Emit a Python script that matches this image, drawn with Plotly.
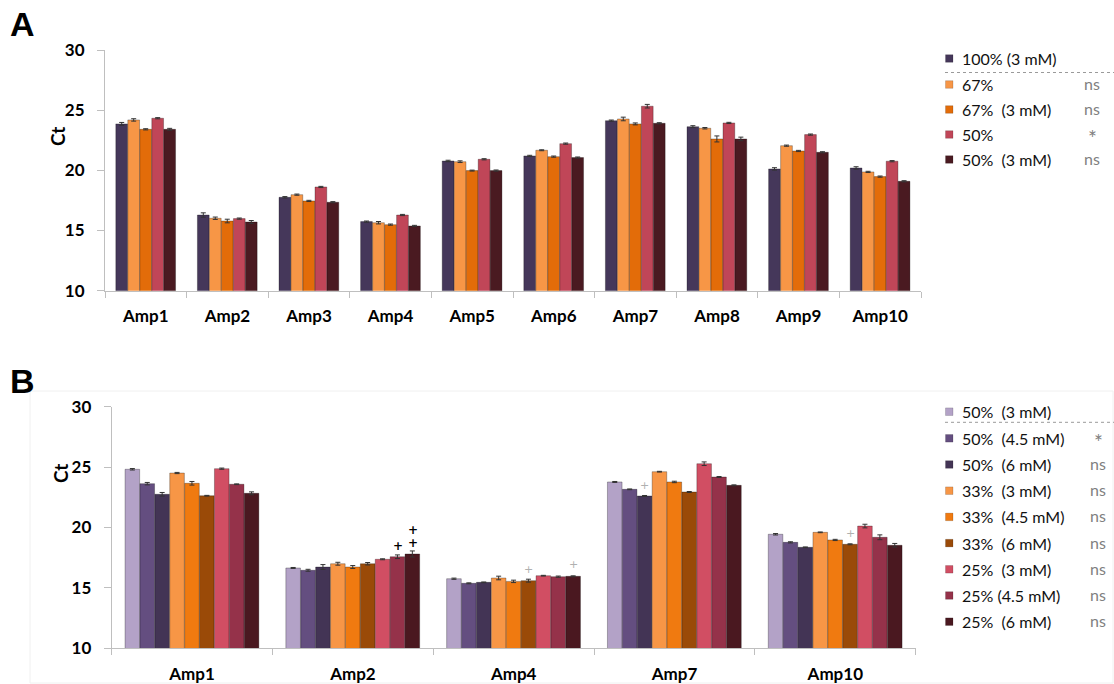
import plotly.graph_objects as go

# ---------------- Panel A data ----------------
cats_a = ["Amp1", "Amp2", "Amp3", "Amp4", "Amp5", "Amp6", "Amp7", "Amp8", "Amp9", "Amp10"]
series_a = ["100% (3 mM)", "67%", "67%  (3 mM)", "50%", "50%  (3 mM)"]
sig_a = ["", "ns", "ns", "*", "ns"]
colors_a = ["#45375A", "#F79646", "#E36C09", "#C04658", "#4A1A21"]

a_100_3mM = [23.86, 16.29, 17.76, 15.74, 20.78, 21.20, 24.13, 23.63, 20.12, 20.20]
a_67 = [24.19, 16.02, 17.98, 15.65, 20.72, 21.67, 24.27, 23.50, 22.05, 19.87]
a_67_3mM = [23.41, 15.79, 17.46, 15.49, 19.98, 21.14, 23.86, 22.61, 21.61, 19.48]
a_50 = [24.33, 15.99, 18.62, 16.29, 20.92, 22.22, 25.33, 23.94, 22.97, 20.76]
a_50_3mM = [23.41, 15.71, 17.35, 15.38, 19.98, 21.06, 23.91, 22.61, 21.50, 19.09]

e_100_3mM = [0.12, 0.18, 0.06, 0.05, 0.06, 0.05, 0.05, 0.08, 0.10, 0.10]
e_67 = [0.10, 0.10, 0.05, 0.10, 0.07, 0.04, 0.15, 0.06, 0.05, 0.05]
e_67_3mM = [0.05, 0.15, 0.05, 0.05, 0.04, 0.05, 0.08, 0.25, 0.05, 0.05]
e_50 = [0.05, 0.05, 0.05, 0.05, 0.05, 0.05, 0.15, 0.05, 0.05, 0.05]
e_50_3mM = [0.08, 0.12, 0.05, 0.05, 0.05, 0.05, 0.05, 0.15, 0.05, 0.05]

vals_a = [a_100_3mM, a_67, a_67_3mM, a_50, a_50_3mM]
errs_a = [e_100_3mM, e_67, e_67_3mM, e_50, e_50_3mM]

# ---------------- Panel B data ----------------
cats_b = ["Amp1", "Amp2", "Amp4", "Amp7", "Amp10"]
series_b = ["50%  (3 mM)", "50%  (4.5 mM)", "50%  (6 mM)", "33%  (3 mM)", "33%  (4.5 mM)",
            "33%  (6 mM)", "25%  (3 mM)", "25% (4.5 mM)", "25%  (6 mM)"]
sig_b = ["", "*", "ns", "ns", "ns", "ns", "ns", "ns", "ns"]
colors_b = ["#B3A2C7", "#644E80", "#433455", "#F79646", "#F07A10",
            "#9A4A08", "#D14E63", "#95324A", "#4A1820"]

b_50_3 = [24.82, 16.65, 15.76, 23.77, 19.44]
b_50_45 = [23.63, 16.46, 15.38, 23.16, 18.77]
b_50_6 = [22.75, 16.73, 15.46, 22.61, 18.36]
b_33_3 = [24.51, 17.00, 15.82, 24.62, 19.60]
b_33_45 = [23.66, 16.73, 15.54, 23.77, 18.97]
b_33_6 = [22.63, 17.00, 15.60, 22.94, 18.61]
b_25_3 = [24.87, 17.37, 16.01, 25.28, 20.12]
b_25_45 = [23.58, 17.58, 15.93, 24.18, 19.19]
b_25_6 = [22.83, 17.81, 15.96, 23.49, 18.53]

be_50_3 = [0.06, 0.04, 0.05, 0.04, 0.06]
be_50_45 = [0.10, 0.08, 0.04, 0.03, 0.05]
be_50_6 = [0.15, 0.20, 0.03, 0.04, 0.03]
be_33_3 = [0.05, 0.12, 0.15, 0.03, 0.03]
be_33_45 = [0.15, 0.12, 0.10, 0.06, 0.05]
be_33_6 = [0.03, 0.10, 0.12, 0.04, 0.04]
be_25_3 = [0.05, 0.04, 0.03, 0.15, 0.15]
be_25_45 = [0.03, 0.15, 0.05, 0.04, 0.20]
be_25_6 = [0.12, 0.25, 0.04, 0.04, 0.15]

vals_b = [b_50_3, b_50_45, b_50_6, b_33_3, b_33_45, b_33_6, b_25_3, b_25_45, b_25_6]
errs_b = [be_50_3, be_50_45, be_50_6, be_33_3, be_33_45, be_33_6, be_25_3, be_25_45, be_25_6]

# "+" marks in panel B: (category, series index, y value)
plus_bold = [("Amp2", 7, 18.49), ("Amp2", 8, 18.74), ("Amp2", 8, 19.82)]
plus_gray = [("Amp4", 5, 16.54), ("Amp4", 8, 16.90), ("Amp7", 2, 23.49), ("Amp10", 5, 19.52)]

# ---------------- geometry helpers ----------------
W, H = 1114, 684
def px(x):
    return x / W
def py(y):
    return 1 - y / H

FONT = "Lato"
GROUP_A = 0.735
GROUP_B = 0.834
bw_a = GROUP_A / len(series_a)
bw_b = GROUP_B / len(series_b)

fig = go.Figure()

for i, (name, vals, errs, col) in enumerate(zip(series_a, vals_a, errs_a, colors_a)):
    fig.add_trace(go.Bar(
        x=cats_a, y=vals, name=name, xaxis="x", yaxis="y",
        width=bw_a * 0.98, offset=-GROUP_A / 2 + i * bw_a,
        marker=dict(color=col, line=dict(color="rgba(0,0,0,0.28)", width=1)),
        error_y=dict(type="data", array=errs, color="#333333", thickness=1, width=2.5),
        showlegend=False,
    ))

for i, (name, vals, errs, col) in enumerate(zip(series_b, vals_b, errs_b, colors_b)):
    fig.add_trace(go.Bar(
        x=cats_b, y=vals, name=name, xaxis="x2", yaxis="y2",
        width=bw_b * 0.98, offset=-GROUP_B / 2 + i * bw_b,
        marker=dict(color=col, line=dict(color="rgba(0,0,0,0.28)", width=1)),
        error_y=dict(type="data", array=errs, color="#333333", thickness=1, width=2.5),
        showlegend=False,
    ))

annotations = []
shapes = []

def bar_center_b(cat, idx):
    return cats_b.index(cat) - GROUP_B / 2 + (idx + 0.5) * bw_b

for cat, idx, yv in plus_bold:
    annotations.append(dict(x=bar_center_b(cat, idx), y=yv, xref="x2", yref="y2",
                            text="<b>+</b>", showarrow=False,
                            font=dict(family="DejaVu Sans", size=12, color="#000000")))
for cat, idx, yv in plus_gray:
    annotations.append(dict(x=bar_center_b(cat, idx), y=yv, xref="x2", yref="y2",
                            text="+", showarrow=False,
                            font=dict(family="DejaVu Sans", size=11, color="#B0B0B0")))

def legend(series, sig, colors, first_y, sep_y, start_y, step, sig_x):
    for k, (name, s, col) in enumerate(zip(series, sig, colors)):
        yy = first_y if k == 0 else start_y + (k - 1) * step
        shapes.append(dict(type="rect", xref="paper", yref="paper",
                           x0=px(945.5), x1=px(953), y0=py(yy + 3.8), y1=py(yy - 3.8),
                           fillcolor=col, line=dict(color="rgba(0,0,0,0.3)", width=0.5)))
        annotations.append(dict(x=px(960), y=py(yy), xref="paper", yref="paper",
                                xanchor="left", yanchor="middle", showarrow=False,
                                text=name.replace("  ", " \u00a0"),
                                font=dict(family=FONT, size=16, color="#111111")))
        if s:
            star = s == "*"
            annotations.append(dict(x=px(sig_x), y=py(yy + (3 if star else -1)),
                                    xref="paper", yref="paper",
                                    xanchor="center", yanchor="middle", showarrow=False,
                                    text=s, font=dict(family=FONT, size=21 if star else 16,
                                                      color="#808080")))
    shapes.append(dict(type="line", xref="paper", yref="paper",
                       x0=px(945), x1=px(1114), y0=py(sep_y), y1=py(sep_y),
                       line=dict(color="#9A9A9A", width=1, dash="dot")))

legend(series_a, sig_a, colors_a, 58.5, 72.5, 84.5, 25.0, 1092)
legend(series_b, sig_b, colors_b, 411.7, 422.3, 438.3, 26.2, 1098)

# panel letters
annotations.append(dict(x=px(8), y=py(24), xref="paper", yref="paper", xanchor="left",
                        yanchor="middle", showarrow=False, text="<b>A</b>",
                        font=dict(family="Liberation Sans", size=34, color="#000000")))
annotations.append(dict(x=px(8), y=py(381), xref="paper", yref="paper", xanchor="left",
                        yanchor="middle", showarrow=False, text="<b>B</b>",
                        font=dict(family="Liberation Sans", size=34, color="#000000")))
# y titles
annotations.append(dict(x=px(44), y=py(125), xref="paper", yref="paper", textangle=-90,
                        showarrow=False, text="<b>Ct</b>",
                        font=dict(family=FONT, size=19, color="#000000")))
annotations.append(dict(x=px(47), y=py(485), xref="paper", yref="paper", textangle=-90,
                        showarrow=False, text="<b>Ct</b>",
                        font=dict(family=FONT, size=19, color="#000000")))

# faint frame of panel B
shapes.append(dict(type="rect", xref="paper", yref="paper", x0=px(30), x1=px(1113),
                   y0=py(683), y1=py(391), line=dict(color="#F0F0F0", width=1),
                   fillcolor="rgba(0,0,0,0)", layer="below"))

xcommon = dict(type="category", showline=True, linecolor="#BFBFBF", linewidth=1,
               ticks="outside", ticklen=6, tickcolor="#BFBFBF", tickson="boundaries",
               showgrid=False, tickfont=dict(family=FONT, size=17, color="#000000", weight="bold"),
               ticklabelstandoff=10, fixedrange=True, automargin=False)
ycommon = dict(range=[10, 30], dtick=5, showline=True, linecolor="#BFBFBF", linewidth=1,
               ticks="outside", ticklen=7, tickcolor="#BFBFBF", showgrid=False, zeroline=False,
               tickfont=dict(family=FONT, size=17, color="#000000", weight="bold"),
               ticklabelstandoff=9, fixedrange=True, automargin=False)

fig.update_layout(
    width=W, height=H,
    margin=dict(l=0, r=0, t=0, b=0, autoexpand=False),
    paper_bgcolor="white", plot_bgcolor="white",
    barmode="overlay",
    xaxis=dict(xcommon, domain=[px(105), px(921)], range=[-0.5, 9.5], anchor="y"),
    yaxis=dict(ycommon, domain=[py(290.7), py(50)], anchor="x"),
    xaxis2=dict(xcommon, domain=[px(111.7), px(915.7)], range=[-0.5, 4.5], anchor="y2"),
    yaxis2=dict(ycommon, domain=[py(648.3), py(406.7)], anchor="x2"),
    annotations=annotations,
    shapes=shapes,
    showlegend=False,
    hovermode=False,
)

fig.write_html("out.html", config={"displayModeBar": False, "staticPlot": True},
               post_script="document.body.style.margin='0px';document.body.style.overflow='hidden';")
